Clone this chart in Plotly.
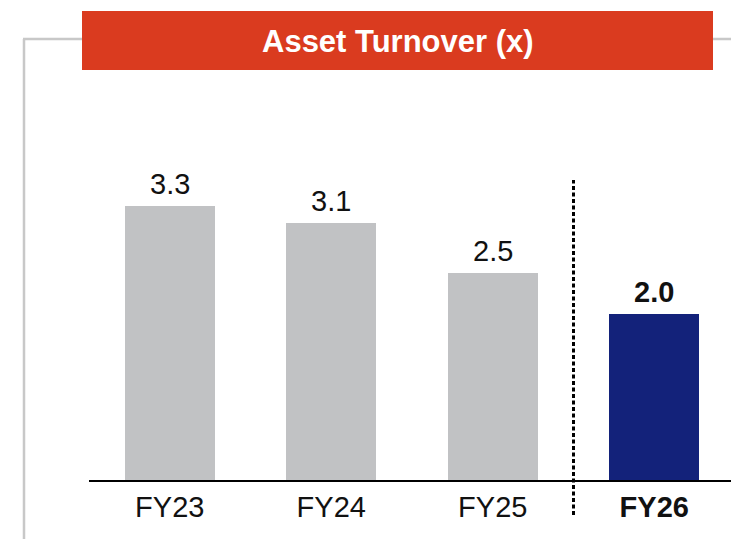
import plotly.graph_objects as go

categories = ["FY23", "FY24", "FY25", "FY26"]
values = [3.3, 3.1, 2.5, 2.0]
value_labels = ["3.3", "3.1", "2.5", "2.0"]
tick_labels = ["FY23", "FY24", "FY25", "<b>FY26</b>"]
bar_colors = ["#C1C2C4", "#C1C2C4", "#C1C2C4", "#13227A"]
title_text = "Asset Turnover (x)"

# the page body adds an 8px margin; lay the figure out in window pixels
OFF = 8
W, H = 739 - OFF, 539 - OFF
ML, MR, MT, MB = 89 - OFF, 4, 100 - OFF, 59
PW, PH = W - ML - MR, H - MT - MB


def px_x(p):
    return (p - OFF - ML) / PW


def px_y(p):
    return (H - MB - (p - OFF)) / PH


FONT = "Liberation Sans, Arial, sans-serif"

fig = go.Figure()
fig.add_trace(go.Bar(
    x=list(range(len(categories))),
    y=values,
    marker=dict(color=bar_colors, line=dict(width=0)),
    width=0.556,
    hoverinfo="skip",
))

annotations = []
for i, (v, lab) in enumerate(zip(values, value_labels)):
    txt = f"<b>{lab}</b>" if i == len(values) - 1 else lab
    annotations.append(dict(
        x=i, y=v, xref="x", yref="y", text=txt, showarrow=False,
        yanchor="bottom", yshift=4,
        font=dict(family=FONT, size=29, color="#111111"),
    ))

# title box text
annotations.append(dict(
    x=px_x(398), y=px_y(41), xref="paper", yref="paper",
    text=f"<b>{title_text}</b>", showarrow=False,
    xanchor="center", yanchor="middle",
    font=dict(family=FONT, size=31, color="white"),
))

shapes = [
    # gray frame
    dict(type="line", xref="paper", yref="paper",
         x0=px_x(24), x1=px_x(24), y0=px_y(39), y1=px_y(545),
         line=dict(color="#C8C8C8", width=2.5)),
    dict(type="line", xref="paper", yref="paper",
         x0=px_x(23), x1=px_x(745), y0=px_y(39), y1=px_y(39),
         line=dict(color="#C8C8C8", width=2.5)),
    # red title box
    dict(type="rect", xref="paper", yref="paper",
         x0=px_x(82), x1=px_x(713), y0=px_y(70), y1=px_y(11),
         fillcolor="#DA3B1F", line=dict(width=0), layer="above"),
    # dashed separator
    dict(type="line", xref="x", yref="paper",
         x0=2.5, x1=2.5, y0=px_y(515), y1=px_y(180),
         line=dict(color="black", width=3, dash="4px,2.5px")),
]

fig.update_layout(
    width=W, height=H,
    margin=dict(l=ML, r=MR, t=MT, b=MB, pad=0),
    paper_bgcolor="white", plot_bgcolor="white",
    showlegend=False,
    bargap=0,
    annotations=annotations,
    shapes=shapes,
    xaxis=dict(
        range=[-0.5, 3.5], tickvals=list(range(len(categories))),
        ticktext=tick_labels, showgrid=False, zeroline=False,
        showline=True, linecolor="black", linewidth=1.5,
        ticks="", tickfont=dict(family=FONT, size=29, color="#111111"),
        fixedrange=True,
    ),
    yaxis=dict(
        range=[0, PH / 83.0], visible=False, showgrid=False,
        zeroline=False, fixedrange=True,
    ),
)

fig.write_html("out.html")
